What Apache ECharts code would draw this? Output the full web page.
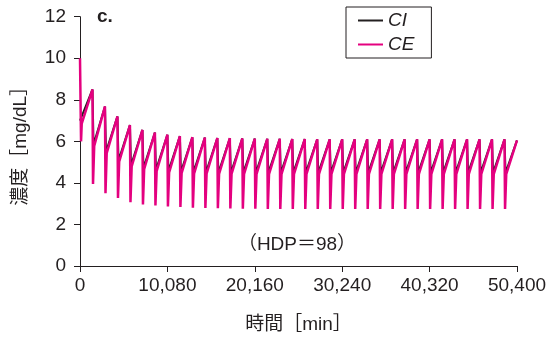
<!DOCTYPE html>
<html>
	<head>
		<meta charset="UTF-8">
		<title></title>
		<script src="https://cdn.jsdelivr.net/npm/echarts@6/dist/echarts.min.js"></script>
		<style>
			body { margin: 0; background: #fff; }
			#main { width: 556px; height: 342px; }
		</style>
	</head>
	<body>
		<div id="main"></div>
		<script>
			// 時間軸の目盛り
			var xTicks = [0, 10080, 20160, 30240, 40320, 50400];
			var yTicks = [0, 2, 4, 6, 8, 10, 12];

			// 1日1回の透析 (1440分周期, 透析120分)
			var cycleMin = 1440;
			var dialysisMin = 120;
			var reboundMin = 200;

			// t = 0 の値
			var ciStart = 7.0;
			var ceStart = 10.0;
			var ceStartTrough = 6.0;
			var ceStartRebound = 6.85;

			// 各透析開始直前の値 (1日目〜34日目)
			var peaks = [8.5, 7.68, 7.2, 6.78, 6.55, 6.42, 6.32, 6.25, 6.2, 6.18,
				6.16, 6.15, 6.14, 6.13, 6.12, 6.12, 6.11, 6.11, 6.1, 6.1,
				6.1, 6.1, 6.1, 6.1, 6.1, 6.1, 6.1, 6.1, 6.1, 6.1,
				6.1, 6.1, 6.1, 6.1];
			// 透析後 CI
			var ciTroughs = [5.85, 5.5, 5.08, 4.85, 4.72, 4.63, 4.57, 4.53, 4.51, 4.5,
				4.49, 4.49, 4.48, 4.48, 4.48, 4.48, 4.48, 4.48, 4.48, 4.48,
				4.48, 4.48, 4.48, 4.48, 4.48, 4.48, 4.48, 4.48, 4.48, 4.48,
				4.48, 4.48, 4.48, 4.48];
			// 透析終了時 CE
			var ceTroughs = [3.95, 3.5, 3.27, 3.07, 2.96, 2.91, 2.87, 2.84, 2.81, 2.79,
				2.78, 2.77, 2.76, 2.76, 2.75, 2.75, 2.75, 2.75, 2.75, 2.75,
				2.75, 2.75, 2.75, 2.75, 2.75, 2.75, 2.75, 2.75, 2.75, 2.75,
				2.75, 2.75, 2.75, 2.75];
			// リバウンド後 CE
			var ceRebounds = [5.78, 5.43, 5.02, 4.79, 4.66, 4.57, 4.51, 4.47, 4.45, 4.44,
				4.43, 4.43, 4.42, 4.42, 4.42, 4.42, 4.42, 4.42, 4.42, 4.42,
				4.42, 4.42, 4.42, 4.42, 4.42, 4.42, 4.42, 4.42, 4.42, 4.42,
				4.42, 4.42, 4.42, 4.42];
			var endValue = 6.05;

			var ciData = [[0, ciStart]];
			var ceData = [[0, ceStart], [dialysisMin, ceStartTrough], [reboundMin, ceStartRebound]];
			for (var i = 0; i < peaks.length; i++) {
				var t = (i + 1) * cycleMin;
				ciData.push([t, peaks[i]]);
				ciData.push([t + dialysisMin, ciTroughs[i]]);
				ceData.push([t, peaks[i]]);
				ceData.push([t + dialysisMin * 0.5, ceTroughs[i]]);
				ceData.push([t + dialysisMin, ceTroughs[i]]);
				ceData.push([t + reboundMin, ceRebounds[i]]);
			}
			ciData.push([xTicks[xTicks.length - 1], endValue]);
			ceData.push([xTicks[xTicks.length - 1], endValue]);

			var font = 'Liberation Sans, Noto Sans CJK JP, sans-serif';
			var ink = '#231f20';

			var myChart = echarts.init(document.getElementById('main'));
			var option = {
				animation: false,
				backgroundColor: '#fff',
				textStyle: { fontFamily: font },
				grid: { left: 80, right: 39, top: 16.7, bottom: 76, containLabel: false },
				legend: {
					data: ['CI', 'CE'],
					orient: 'vertical',
					left: 346,
					top: 7,
					icon: 'rect',
					itemWidth: 25,
					itemHeight: 2,
					itemGap: 5,
					padding: [4, 17, 4, 12],
					borderColor: ink,
					borderWidth: 1,
					textStyle: { fontFamily: font, fontSize: 19, fontStyle: 'italic', color: ink }
				},
				xAxis: {
					type: 'value',
					min: xTicks[0],
					max: xTicks[xTicks.length - 1],
					interval: xTicks[1] - xTicks[0],
					name: '時間［min］',
					nameLocation: 'middle',
					nameGap: 49,
					nameTextStyle: { fontFamily: font, fontSize: 19, color: ink },
					splitLine: { show: false },
					axisLine: { lineStyle: { color: ink, width: 1 } },
					axisTick: { show: true, length: 6, lineStyle: { color: ink } },
					axisLabel: {
						margin: 10,
						fontSize: 19,
						color: ink,
						fontFamily: font,
						formatter: function (v) { return v.toLocaleString('en-US'); }
					}
				},
				yAxis: {
					type: 'value',
					min: yTicks[0],
					max: yTicks[yTicks.length - 1],
					interval: yTicks[1] - yTicks[0],
					name: '濃度［mg/dL］',
					nameLocation: 'middle',
					nameRotate: 90,
					nameGap: 50,
					nameTextStyle: { fontFamily: font, fontSize: 19, color: ink },
					splitLine: { show: false },
					axisLine: { show: true, lineStyle: { color: ink, width: 1 } },
					axisTick: { show: true, length: 6, lineStyle: { color: ink } },
					axisLabel: { margin: 14, fontSize: 19, color: ink, fontFamily: font }
				},
				graphic: [
					{
						type: 'text',
						left: 97,
						top: 7,
						style: { text: 'c.', fontSize: 19, fontWeight: 'bold', fontFamily: font, fill: ink }
					},
					{
						type: 'text',
						x: 297,
						y: 245,
						style: {
							text: '（HDP＝98）',
							fontSize: 19,
							fontFamily: font,
							fill: ink,
							align: 'center',
							verticalAlign: 'middle'
						}
					}
				],
				series: [
					{
						name: 'CI',
						type: 'line',
						data: ciData,
						showSymbol: false,
						color: ink,
						lineStyle: { color: ink, width: 2 }
					},
					{
						name: 'CE',
						type: 'line',
						data: ceData,
						showSymbol: false,
						color: '#e4007f',
						lineStyle: { color: '#e4007f', width: 2.5 }
					}
				]
			};
			myChart.setOption(option);
		</script>
	</body>
</html>
